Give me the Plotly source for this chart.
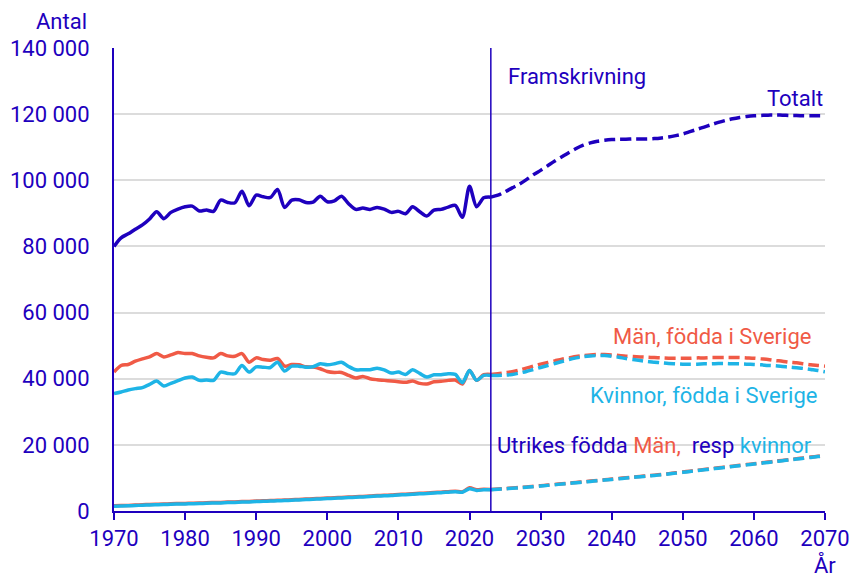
import plotly.graph_objects as go

# ---------------- data ----------------
hist_years = list(range(1970, 2024))
proj_years = list(range(2023, 2071))
forecast_start = 2023

total_hist = [80000, 82600, 83800, 85200, 86500, 88300, 90500, 88400, 90300, 91300,
              92000, 92200, 90700, 91000, 90600, 94000, 93300, 93200, 96700, 92300,
              95500, 95000, 94800, 97200, 91800, 94000, 94100, 93300, 93400, 95200,
              93500, 93800, 95200, 92900, 91200, 91600, 91200, 91800, 91300, 90300,
              90600, 89900, 92000, 90500, 89200, 91000, 91200, 91900, 92400, 88800,
              98200, 92000, 94700, 94900]

men_se_hist = [42000, 44000, 44300, 45300, 46000, 46600, 47600, 46600, 47200, 47900,
               47600, 47600, 46900, 46500, 46300, 47600, 46900, 46800, 47600, 45000,
               46300, 45800, 45600, 46100, 43800, 44300, 44200, 43600, 43500, 43000,
               42200, 41900, 41900, 41000, 40200, 40700, 40000, 39700, 39500, 39300,
               39100, 38900, 39300, 38600, 38400, 39100, 39200, 39500, 39600, 38400,
               42500, 39500, 41200, 41300]

women_se_hist = [35500, 36000, 36600, 37000, 37300, 38300, 39300, 37800, 38600, 39400,
                 40200, 40500, 39500, 39600, 39500, 42000, 41600, 41500, 44000, 42000,
                 43600, 43500, 43400, 45000, 42300, 43800, 43800, 43500, 43600, 44500,
                 44200, 44500, 45000, 43700, 42700, 42700, 42700, 43200, 42700, 41700,
                 42000, 41300, 42700, 41600, 40500, 41200, 41200, 41500, 41300, 38800,
                 42500, 39500, 41000, 41000]

men_fb_hist = [1600, 1650, 1700, 1800, 1900, 2000, 2050, 2100, 2200, 2250,
               2300, 2350, 2400, 2500, 2550, 2600, 2700, 2750, 2850, 2900,
               3000, 3100, 3150, 3250, 3300, 3400, 3500, 3600, 3700, 3800,
               3900, 4000, 4100, 4200, 4300, 4400, 4500, 4650, 4750, 4850,
               5000, 5100, 5200, 5350, 5450, 5600, 5700, 5850, 6000, 5800,
               7000, 6400, 6600, 6500]

women_fb_hist = [1450, 1500, 1550, 1650, 1750, 1850, 1900, 1950, 2050, 2100,
                 2150, 2200, 2250, 2350, 2400, 2450, 2550, 2600, 2700, 2750,
                 2850, 2950, 3000, 3100, 3150, 3250, 3350, 3450, 3550, 3650,
                 3750, 3850, 3950, 4050, 4150, 4250, 4350, 4500, 4600, 4700,
                 4850, 4950, 5050, 5200, 5300, 5450, 5550, 5700, 5850, 5650,
                 6700, 6200, 6400, 6400]

total_proj = [94900, 95500, 96500, 97700, 98800, 100200, 101700, 103000, 104400, 105800,
              107100, 108400, 109600, 110600, 111300, 111800, 112100, 112300, 112400, 112400,
              112500, 112500, 112500, 112600, 112800, 113100, 113500, 114000, 114700, 115400,
              116100, 116800, 117500, 118100, 118600, 119000, 119300, 119500, 119600, 119700,
              119700, 119700, 119600, 119600, 119500, 119500, 119500, 119500]

men_se_proj = [41300, 41500, 41800, 42100, 42600, 43200, 43800, 44400, 44900, 45400,
               45900, 46300, 46700, 47000, 47200, 47300, 47300, 47200, 47000, 46800,
               46700, 46600, 46500, 46400, 46300, 46200, 46200, 46200, 46200, 46300,
               46300, 46400, 46400, 46400, 46400, 46400, 46300, 46200, 46000, 45800,
               45500, 45300, 45000, 44800, 44500, 44200, 44000, 43800]

women_se_proj = [41000, 41000, 41100, 41300, 41700, 42200, 42800, 43400, 44000, 44600,
                 45200, 45800, 46300, 46700, 46900, 47000, 47000, 46800, 46500, 46100,
                 45800, 45500, 45200, 45000, 44800, 44600, 44500, 44400, 44400, 44400,
                 44500, 44500, 44600, 44600, 44500, 44500, 44400, 44300, 44200, 44000,
                 43900, 43700, 43500, 43300, 43100, 42800, 42500, 42100]

men_fb_proj = [6500, 6650, 6800, 6950, 7100, 7250, 7450, 7650, 7850, 8050,
               8250, 8450, 8650, 8850, 9050, 9250, 9450, 9650, 9850, 10050,
               10250, 10450, 10650, 10850, 11050, 11300, 11550, 11800, 12050, 12300,
               12550, 12800, 13050, 13300, 13550, 13800, 14050, 14300, 14550, 14800,
               15050, 15300, 15550, 15800, 16050, 16300, 16550, 16800]

women_fb_proj = [6400, 6550, 6700, 6850, 7000, 7150, 7350, 7550, 7750, 7950,
                 8150, 8350, 8550, 8750, 8950, 9150, 9350, 9550, 9750, 9950,
                 10150, 10350, 10550, 10750, 10950, 11200, 11450, 11700, 11950, 12200,
                 12450, 12700, 12950, 13200, 13450, 13700, 13950, 14200, 14450, 14700,
                 14950, 15200, 15450, 15700, 15950, 16200, 16450, 16650]

x_ticks = list(range(1970, 2071, 10))

# ---------------- styles ----------------
DARK = "#1E00BE"
RED = "#F05A46"
LIGHT = "#1EB4E6"
FONT = "Roboto"
LW = 3.5
DASH = "11px,5px"

fig = go.Figure()

def add(x, y, color, dash=None):
    fig.add_trace(go.Scatter(x=x, y=y, mode="lines",
                             line=dict(color=color, width=LW, dash=dash, shape="spline", smoothing=0.8),
                             hoverinfo="skip", showlegend=False))

add(hist_years, total_hist, DARK)
add(proj_years, total_proj, DARK, DASH)
add(hist_years, men_se_hist, RED)
add(proj_years, men_se_proj, RED, DASH)
add(hist_years, women_se_hist, LIGHT)
add(proj_years, women_se_proj, LIGHT, DASH)
add(hist_years, men_fb_hist, RED)
add(proj_years, men_fb_proj, RED, DASH)
add(hist_years, women_fb_hist, LIGHT)
add(proj_years, women_fb_proj, LIGHT, DASH)

fig.add_shape(type="line", x0=forecast_start, x1=forecast_start, y0=0, y1=140000,
              xref="x", yref="y", line=dict(color=DARK, width=1.5), layer="above")

ann_font = dict(family=FONT, size=22, color=DARK)
fig.add_annotation(x=2025.2, y=131500, text="Framskrivning", showarrow=False,
                   xanchor="left", yanchor="middle", font=ann_font)
fig.add_annotation(x=2070, y=124800, text="Totalt", showarrow=False,
                   xanchor="right", yanchor="middle", font=ann_font)
fig.add_annotation(x=2068.3, y=52800, text="Män, födda i Sverige", showarrow=False,
                   xanchor="right", yanchor="middle", font=dict(family=FONT, size=22, color=RED))
fig.add_annotation(x=2069.2, y=34900, text="Kvinnor, födda i Sverige", showarrow=False,
                   xanchor="right", yanchor="middle", font=dict(family=FONT, size=22, color=LIGHT))
fig.add_annotation(x=2023.6, y=19900,
                   text=("Utrikes födda <span style='color:%s'>Män,</span>\u00a0 resp "
                         "<span style='color:%s'>kvinnor</span>") % (RED, LIGHT),
                   showarrow=False, xanchor="left", yanchor="middle", font=ann_font)
fig.add_annotation(xref="paper", yref="paper", x=-0.0745, y=1.058, text="Antal",
                   showarrow=False, xanchor="center", yanchor="middle", font=ann_font)
fig.add_annotation(xref="paper", yref="paper", x=1.0, y=-0.117, text="År",
                   showarrow=False, xanchor="center", yanchor="middle", font=ann_font)

fig.update_layout(
    width=850, height=580, autosize=False,
    margin=dict(l=114, r=25, t=48, b=69),
    paper_bgcolor="white", plot_bgcolor="white",
    separators=", ",
    font=dict(family=FONT, size=22, color=DARK),
    xaxis=dict(range=[1970, 2070], tickvals=x_ticks, showgrid=False, zeroline=False,
               automargin=False,
               showline=True, linecolor=DARK, linewidth=2, ticks="outside",
               ticklen=7, tickwidth=2, tickcolor=DARK,
               tickfont=dict(family=FONT, size=22, color=DARK)),
    yaxis=dict(range=[0, 140000], dtick=20000, tickformat=",d", showgrid=True,
               automargin=False,
               gridcolor="#DCDCDC", gridwidth=1.5, zeroline=False,
               showline=True, linecolor=DARK, linewidth=2, ticks="",
               ticklabelstandoff=18,
               tickfont=dict(family=FONT, size=22, color=DARK)),
)

post = ("document.documentElement.style.overflow='hidden';"
        "document.body.style.margin='0';document.body.style.overflow='hidden';")

fig.write_html("out.html",
               config={"responsive": False, "displayModeBar": False},
               post_script=post)
